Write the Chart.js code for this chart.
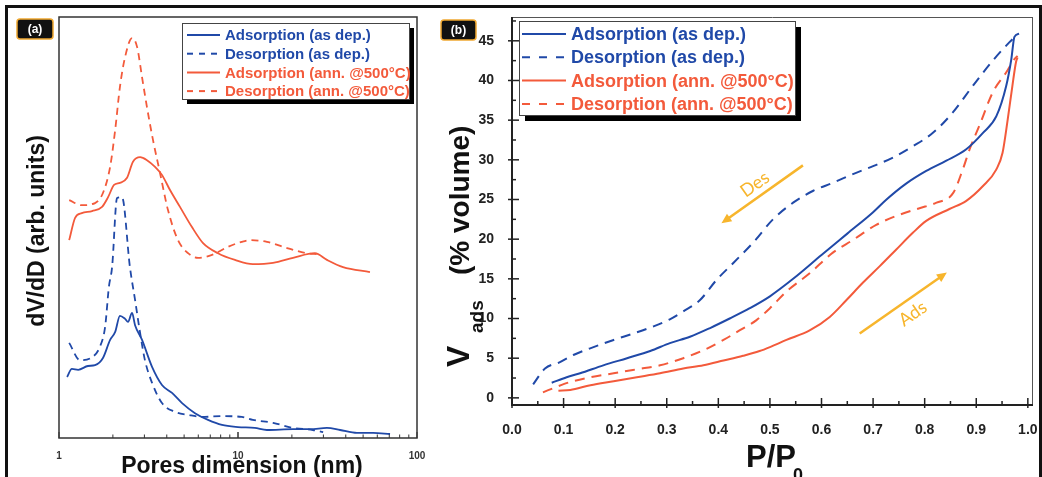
<!DOCTYPE html>
<html>
<head>
<meta charset="utf-8">
<script src="https://cdn.jsdelivr.net/npm/chart.js@4.4.0/dist/chart.umd.min.js"></script>
<style>
  body { margin: 0; background: #fff; }
  #wrap { position: relative; width: 1042px; height: 477px; overflow: hidden; background: #fff; }
  #frame { position: absolute; left: 5px; top: 5px; width: 1031px; height: 490px; border: 3px solid #111; }
  #chartA { position: absolute; left: 0; top: 0; }
  #chartB { position: absolute; left: 432px; top: 0; }
</style>
</head>
<body>
<div id="wrap">
  <div id="frame"></div>
  <canvas id="chartA" width="432" height="477"></canvas>
  <canvas id="chartB" width="610" height="477"></canvas>
</div>
<script>
// series names (same in both panels)
const seriesLabels = ['Adsorption (as dep.)', 'Desorption (as dep.)', 'Adsorption (ann. @500°C)', 'Desorption (ann. @500°C)'];

// (a) pore size distribution: pore diameter (nm, log axis) vs dV/dD (arb. units, 0-100)
const poreAdsAsDepX = [1.11, 1.18, 1.28, 1.45, 1.59, 1.76, 1.93, 2.06, 2.19, 2.34, 2.43, 2.56, 2.66, 2.91, 3.31, 3.76, 4.28, 4.87, 5.75, 6.80, 8.14, 10.0, 12.4, 14.5, 20.3, 25.3, 31.4, 37.2, 46.2, 56.8, 70.7];
const poreAdsAsDepY = [14.5, 16.4, 16.2, 17.1, 17.3, 19.0, 23.3, 25.2, 29.0, 28.3, 27.6, 29.7, 26.8, 23.3, 16.9, 12.6, 10.7, 8.3, 5.9, 4.3, 3.1, 2.6, 2.4, 1.9, 2.1, 2.1, 2.4, 1.9, 1.2, 1.2, 0.95];
const poreDesAsDepX = [1.14, 1.31, 1.53, 1.69, 1.81, 1.90, 1.98, 2.11, 2.25, 2.49, 2.66, 2.84, 3.02, 3.31, 3.76, 4.45, 5.26, 6.29, 8.14, 10.5, 12.1, 15.7, 20.3, 26.2, 29.9];
const poreDesAsDepY = [22.6, 18.5, 19.2, 21.6, 26.4, 35.9, 40.6, 57.0, 57.2, 40.6, 32.8, 24.9, 18.5, 13.1, 8.3, 6.2, 5.5, 5.0, 5.2, 5.0, 4.3, 3.6, 2.4, 1.9, 1.4];
const poreAdsAnnX = [1.14, 1.23, 1.34, 1.53, 1.74, 1.88, 2.03, 2.19, 2.40, 2.59, 2.84, 3.10, 3.44, 3.76, 4.17, 4.74, 5.53, 6.38, 7.73, 9.62, 12.1, 15.7, 20.3, 26.9, 31.4, 38.6, 54.6];
const poreAdsAnnY = [47.0, 52.3, 53.4, 53.9, 54.9, 57.2, 60.1, 60.6, 61.8, 65.6, 66.7, 66.0, 64.4, 62.5, 58.9, 54.9, 50.1, 46.3, 43.9, 42.3, 41.3, 41.6, 42.8, 43.9, 42.3, 40.6, 39.4];
const poreDesAnnX = [1.14, 1.34, 1.59, 1.76, 1.93, 2.06, 2.19, 2.34, 2.56, 2.73, 2.91, 3.10, 3.35, 3.67, 4.06, 4.62, 5.26, 5.98, 7.16, 8.79, 10.5, 11.7, 14.5, 18.8, 24.3, 27.6];
const poreDesAnnY = [56.5, 55.3, 55.8, 58.2, 64.4, 73.2, 83.4, 90.5, 95.0, 92.9, 85.7, 78.6, 70.8, 62.9, 54.2, 47.0, 43.9, 42.8, 43.5, 45.4, 46.6, 47.0, 46.6, 45.1, 43.9, 43.7];

// (b) isotherms: P/P0 vs V_ads (% volume)
const isoAdsAsDepX = [0.077, 0.106, 0.132, 0.177, 0.223, 0.268, 0.306, 0.345, 0.384, 0.422, 0.461, 0.5, 0.545, 0.6, 0.65, 0.7, 0.726, 0.764, 0.803, 0.842, 0.880, 0.913, 0.939, 0.958, 0.968, 0.974, 0.983];
const isoAdsAsDepY = [1.9, 2.6, 3.1, 4.1, 5.0, 5.9, 6.9, 7.7, 8.8, 10.0, 11.3, 12.8, 15.0, 18.0, 20.7, 23.4, 25.0, 27.0, 28.6, 29.9, 31.3, 33.4, 35.5, 39.3, 42.7, 45.5, 45.9];
const isoDesAsDepX = [0.041, 0.064, 0.093, 0.119, 0.158, 0.197, 0.235, 0.274, 0.306, 0.332, 0.364, 0.397, 0.429, 0.468, 0.506, 0.545, 0.584, 0.622, 0.661, 0.700, 0.739, 0.777, 0.816, 0.855, 0.893, 0.932, 0.964, 0.980];
const isoDesAsDepY = [1.7, 3.7, 4.5, 5.4, 6.4, 7.3, 8.1, 9.0, 9.9, 10.9, 12.3, 14.9, 17.0, 19.6, 22.5, 24.6, 26.1, 27.1, 28.2, 29.2, 30.3, 31.7, 33.4, 36.0, 39.3, 42.5, 44.8, 45.8];
const isoAdsAnnX = [0.090, 0.113, 0.152, 0.197, 0.242, 0.287, 0.332, 0.371, 0.41, 0.448, 0.480, 0.5, 0.532, 0.577, 0.616, 0.648, 0.680, 0.713, 0.745, 0.777, 0.803, 0.848, 0.880, 0.913, 0.939, 0.951, 0.961, 0.970, 0.977, 0.980];
const isoAdsAnnY = [0.9, 1.0, 1.6, 2.1, 2.6, 3.1, 3.7, 4.1, 4.7, 5.3, 5.9, 6.4, 7.3, 8.5, 10.2, 12.3, 14.5, 16.6, 18.7, 20.8, 22.3, 23.8, 24.8, 26.7, 28.8, 30.9, 35.1, 39.3, 42.3, 42.9];
const isoDesAnnX = [0.060, 0.087, 0.113, 0.152, 0.197, 0.242, 0.287, 0.332, 0.371, 0.41, 0.441, 0.474, 0.5, 0.532, 0.577, 0.622, 0.661, 0.706, 0.752, 0.790, 0.823, 0.855, 0.874, 0.887, 0.906, 0.932, 0.958, 0.974, 0.980];
const isoDesAnnY = [0.7, 1.4, 2.0, 2.6, 3.1, 3.6, 4.1, 5.0, 6.0, 7.3, 8.5, 9.8, 11.3, 13.4, 15.7, 18.3, 19.9, 21.8, 23.1, 23.9, 24.6, 25.8, 28.8, 31.3, 34.3, 38.5, 41.0, 42.7, 43.1];

// tick labels
const xTicksA = [1, 10, 100];
const xTicksB = [0, 0.1, 0.2, 0.3, 0.4, 0.5, 0.6, 0.7, 0.8, 0.9, 1.0];
const yTicksB = [0, 5, 10, 15, 20, 25, 30, 35, 40, 45];

// arrow annotations in panel (b): [x0, y0, x1, y1] (head at the end), label position
const desArrow = [0.564, 29.3, 0.406, 22.0];
const adsArrow = [0.674, 8.1, 0.843, 15.8];
const desLabel = { text: 'Des', x: 0.471, y: 26.9 };
const adsLabel = { text: 'Ads', x: 0.777, y: 10.6 };

const BLUE = '#2049a8';
const RED = '#f35a3b';
const GOLD = '#f7b52c';
const FAM = '"Liberation Sans", Arial, sans-serif';

const pts = (xs, ys) => xs.map((x, i) => ({ x: x, y: ys[i] }));

const makeSets = (lists, width, dash) => lists.map((l, i) => ({
    label: seriesLabels[i],
    data: pts(l[0], l[1]),
    borderColor: i < 2 ? BLUE : RED,
    borderWidth: width,
    borderDash: i % 2 ? dash : [],
    showLine: true,
    pointRadius: 0,
    fill: false,
    cubicInterpolationMode: 'monotone'
}));

const drawLegend = (chart, box) => {
    const ctx = chart.ctx;
    ctx.save();
    ctx.fillStyle = '#000';
    ctx.fillRect(box.x + box.shadow, box.y + box.shadow, box.w, box.h);
    ctx.fillStyle = '#fff';
    ctx.fillRect(box.x, box.y, box.w, box.h);
    ctx.strokeStyle = '#444';
    ctx.lineWidth = 1;
    ctx.strokeRect(box.x + 0.5, box.y + 0.5, box.w, box.h);
    chart.data.datasets.forEach((ds, i) => {
        const y = box.y + box.first + i * box.step;
        ctx.strokeStyle = ds.borderColor;
        ctx.lineWidth = 2;
        ctx.setLineDash(ds.borderDash.length ? box.dash : []);
        ctx.beginPath();
        ctx.moveTo(box.x + box.l0, y);
        ctx.lineTo(box.x + box.l1, y);
        ctx.stroke();
        ctx.setLineDash([]);
        ctx.fillStyle = ds.borderColor;
        ctx.font = box.font;
        ctx.textAlign = 'left';
        ctx.textBaseline = 'middle';
        ctx.fillText(ds.label, box.x + box.tx, y + 1);
    });
    ctx.restore();
};

const drawTag = (ctx, x, y, w, h, text) => {
    ctx.save();
    ctx.beginPath();
    ctx.roundRect(x, y, w, h, 3);
    ctx.fillStyle = '#111';
    ctx.fill();
    ctx.strokeStyle = '#f0a830';
    ctx.lineWidth = 1.5;
    ctx.stroke();
    ctx.fillStyle = '#fff';
    ctx.font = 'bold 12px ' + FAM;
    ctx.textAlign = 'center';
    ctx.textBaseline = 'middle';
    ctx.fillText(text, x + w / 2, y + h / 2 + 1);
    ctx.restore();
};

const tick = (ctx, x0, y0, x1, y1) => {
    ctx.beginPath();
    ctx.moveTo(x0, y0);
    ctx.lineTo(x1, y1);
    ctx.stroke();
};

// ---------- panel (a) ----------
const panelA = {
    id: 'panelA',
    afterDraw(chart) {
        const ctx = chart.ctx;
        const a = chart.chartArea;
        const xs = chart.scales.x;
        ctx.save();
        ctx.strokeStyle = '#333';
        ctx.lineWidth = 1.5;
        ctx.strokeRect(a.left, a.top, a.right - a.left, a.bottom - a.top);
        ctx.lineWidth = 1;
        for (let d = 1; d < 100; d *= 10) {
            for (let m = 1; m <= 10; m++) {
                const px = xs.getPixelForValue(d * m);
                const len = (m === 1 || m === 10) ? 6 : 3.5;
                tick(ctx, px, a.bottom, px, a.bottom - len);
            }
        }
        ctx.fillStyle = '#111';
        ctx.font = 'bold 23px ' + FAM;
        ctx.textAlign = 'center';
        ctx.textBaseline = 'alphabetic';
        ctx.fillText('Pores dimension (nm)', (a.left + a.right) / 2 + 4, 473);
        ctx.translate(44, 231);
        ctx.rotate(-Math.PI / 2);
        ctx.fillText('dV/dD (arb. units)', 0, 0);
        ctx.restore();
        drawLegend(chart, { x: 182, y: 23, w: 227, h: 76, shadow: 5, first: 12, step: 18.7, l0: 5, l1: 38, tx: 43, dash: [6, 6], font: 'bold 15px ' + FAM });
        drawTag(ctx, 17, 19, 36, 20, '(a)');
    }
};

new Chart(document.getElementById('chartA'), {
    type: 'scatter',
    data: {
        datasets: makeSets([
            [poreAdsAsDepX, poreAdsAsDepY],
            [poreDesAsDepX, poreDesAsDepY],
            [poreAdsAnnX, poreAdsAnnY],
            [poreDesAnnX, poreDesAnnY]
        ], 1.8, [7, 5])
    },
    options: {
        responsive: false,
        animation: false,
        layout: { padding: { left: 59, top: 17, right: 15, bottom: 0 } },
        plugins: { legend: { display: false }, tooltip: { enabled: false } },
        scales: {
            x: {
                type: 'logarithmic',
                min: 1,
                max: 100,
                afterBuildTicks: s => { s.ticks = xTicksA.map(v => ({ value: v })); },
                afterFit: s => { s.height = 39; s.paddingLeft = 0; s.paddingRight = 0; },
                ticks: {
                    callback: v => String(v),
                    autoSkip: false,
                    maxRotation: 0,
                    padding: 4,
                    color: '#333',
                    font: { family: FAM, size: 10, weight: 'bold' }
                },
                grid: { display: false },
                border: { display: false }
            },
            y: { display: false, min: 0, max: 100 }
        }
    },
    plugins: [panelA]
});

// ---------- panel (b) ----------
const arrow = (ctx, s, ar) => {
    const x0 = s.x.getPixelForValue(ar[0]), y0 = s.y.getPixelForValue(ar[1]);
    const x1 = s.x.getPixelForValue(ar[2]), y1 = s.y.getPixelForValue(ar[3]);
    const ang = Math.atan2(y1 - y0, x1 - x0);
    ctx.strokeStyle = GOLD;
    ctx.fillStyle = GOLD;
    ctx.lineWidth = 2.5;
    tick(ctx, x0, y0, x1 - 6 * Math.cos(ang), y1 - 6 * Math.sin(ang));
    ctx.beginPath();
    ctx.moveTo(x1, y1);
    ctx.lineTo(x1 - 10 * Math.cos(ang) + 4.5 * Math.sin(ang), y1 - 10 * Math.sin(ang) - 4.5 * Math.cos(ang));
    ctx.lineTo(x1 - 10 * Math.cos(ang) - 4.5 * Math.sin(ang), y1 - 10 * Math.sin(ang) + 4.5 * Math.cos(ang));
    ctx.closePath();
    ctx.fill();
    return ang;
};

const arrowText = (ctx, s, lab, ang) => {
    ctx.save();
    ctx.translate(s.x.getPixelForValue(lab.x), s.y.getPixelForValue(lab.y));
    ctx.rotate(ang);
    ctx.fillStyle = GOLD;
    ctx.font = '18px Lato, "Open Sans", sans-serif';
    ctx.textAlign = 'center';
    ctx.textBaseline = 'middle';
    ctx.fillText(lab.text, 0, 0);
    ctx.restore();
};

const panelB = {
    id: 'panelB',
    afterDraw(chart) {
        const ctx = chart.ctx;
        const a = chart.chartArea;
        const s = chart.scales;
        ctx.save();
        // frame: thin top/right, heavy axes
        ctx.strokeStyle = '#555';
        ctx.lineWidth = 1;
        tick(ctx, a.left, a.top + 0.5, a.right, a.top + 0.5);
        tick(ctx, a.right - 0.5, a.top, a.right - 0.5, a.bottom);
        ctx.strokeStyle = '#222';
        ctx.lineWidth = 2;
        tick(ctx, a.left, a.top, a.left, a.bottom + 1);
        tick(ctx, a.left - 1, a.bottom, a.right, a.bottom);
        // major and minor ticks
        ctx.lineWidth = 1.5;
        xTicksB.forEach(v => {
            const px = s.x.getPixelForValue(v);
            tick(ctx, px, a.bottom - 7, px, a.bottom + 3);
            if (v < 1) {
                const pm = s.x.getPixelForValue(v + 0.05);
                tick(ctx, pm, a.bottom - 4, pm, a.bottom + 1);
            }
        });
        yTicksB.forEach(v => {
            const py = s.y.getPixelForValue(v);
            tick(ctx, a.left - 4, py, a.left + 7, py);
            const pm = s.y.getPixelForValue(v + 2.5);
            tick(ctx, a.left - 1, pm, a.left + 4, pm);
        });
        // arrows
        const angD = arrow(ctx, s, desArrow);
        const angA = arrow(ctx, s, adsArrow);
        arrowText(ctx, s, desLabel, angD + Math.PI);
        arrowText(ctx, s, adsLabel, angA);
        // axis titles
        ctx.fillStyle = '#111';
        ctx.textAlign = 'left';
        ctx.textBaseline = 'alphabetic';
        ctx.font = 'bold 31px ' + FAM;
        ctx.fillText('P/P', 314, 467);
        ctx.font = 'bold 18px ' + FAM;
        ctx.fillText('0', 361, 481);
        ctx.translate(37, 367);
        ctx.rotate(-Math.PI / 2);
        ctx.font = 'bold 32px ' + FAM;
        ctx.fillText('V', 0, 0);
        ctx.font = 'bold 19px ' + FAM;
        ctx.fillText('ads', 34, 14);
        ctx.font = 'bold 28px ' + FAM;
        ctx.fillText('(% volume)', 92, 0);
        ctx.restore();
        drawLegend(chart, { x: 87, y: 21, w: 276, h: 94, shadow: 6, first: 13, step: 23.3, l0: 3, l1: 47, tx: 52, dash: [8, 9], font: 'bold 18px ' + FAM });
        drawTag(ctx, 9, 20, 35, 20, '(b)');
    }
};

const tickFont = { family: FAM, size: 14, weight: 'bold' };

new Chart(document.getElementById('chartB'), {
    type: 'scatter',
    data: {
        datasets: makeSets([
            [isoAdsAsDepX, isoAdsAsDepY],
            [isoDesAsDepX, isoDesAsDepY],
            [isoAdsAnnX, isoAdsAnnY],
            [isoDesAnnX, isoDesAnnY]
        ], 2, [10, 7])
    },
    options: {
        responsive: false,
        animation: false,
        layout: { padding: { left: 0, top: 17, right: 9, bottom: 0 } },
        plugins: { legend: { display: false }, tooltip: { enabled: false } },
        scales: {
            x: {
                type: 'linear',
                min: 0,
                max: 1.01,
                afterBuildTicks: s => { s.ticks = xTicksB.map(v => ({ value: v })); },
                afterFit: s => { s.height = 72; s.paddingLeft = 0; s.paddingRight = 0; },
                ticks: { callback: v => v.toFixed(1), autoSkip: false, maxRotation: 0, padding: 9, color: '#222', font: tickFont },
                grid: { display: false },
                border: { display: false }
            },
            y: {
                type: 'linear',
                min: -0.9,
                max: 48,
                afterBuildTicks: s => { s.ticks = yTicksB.map(v => ({ value: v })); },
                afterFit: s => { s.width = 80; s.paddingTop = 0; s.paddingBottom = 0; },
                ticks: { callback: v => String(v), autoSkip: false, padding: 10, color: '#222', font: tickFont },
                grid: { display: false },
                border: { display: false }
            }
        }
    },
    plugins: [panelB]
});
</script>
</body>
</html>
